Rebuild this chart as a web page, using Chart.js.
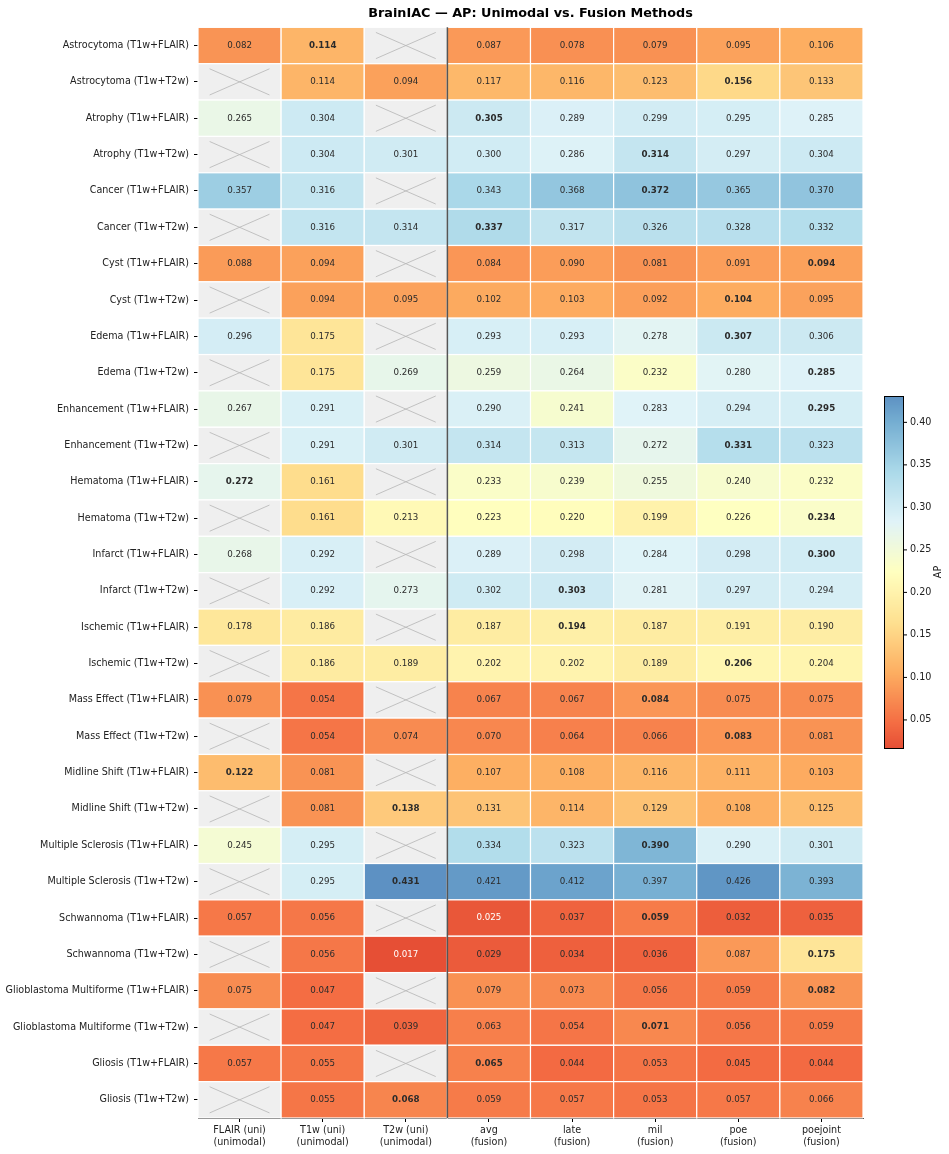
<!DOCTYPE html>
<html>
<head>
<meta charset="utf-8">
<script src="https://cdn.jsdelivr.net/npm/chart.js@4.4.0/dist/chart.umd.min.js"></script>
<style>
  body { margin: 0; background: #fff; }
  #wrap { width: 949px; height: 1154px; }
</style>
</head>
<body>
<div id="wrap"><canvas id="heatmap" width="949" height="1154"></canvas></div>
<script>
const chartTitle = "BrainIAC \u2014 AP: Unimodal vs. Fusion Methods";

const rowLabels = [
    "Astrocytoma (T1w+FLAIR)", "Astrocytoma (T1w+T2w)",
    "Atrophy (T1w+FLAIR)", "Atrophy (T1w+T2w)",
    "Cancer (T1w+FLAIR)", "Cancer (T1w+T2w)",
    "Cyst (T1w+FLAIR)", "Cyst (T1w+T2w)",
    "Edema (T1w+FLAIR)", "Edema (T1w+T2w)",
    "Enhancement (T1w+FLAIR)", "Enhancement (T1w+T2w)",
    "Hematoma (T1w+FLAIR)", "Hematoma (T1w+T2w)",
    "Infarct (T1w+FLAIR)", "Infarct (T1w+T2w)",
    "Ischemic (T1w+FLAIR)", "Ischemic (T1w+T2w)",
    "Mass Effect (T1w+FLAIR)", "Mass Effect (T1w+T2w)",
    "Midline Shift (T1w+FLAIR)", "Midline Shift (T1w+T2w)",
    "Multiple Sclerosis (T1w+FLAIR)", "Multiple Sclerosis (T1w+T2w)",
    "Schwannoma (T1w+FLAIR)", "Schwannoma (T1w+T2w)",
    "Glioblastoma Multiforme (T1w+FLAIR)", "Glioblastoma Multiforme (T1w+T2w)",
    "Gliosis (T1w+FLAIR)", "Gliosis (T1w+T2w)"
];

const colKeys = ["flair", "t1w", "t2w", "avg", "late", "mil", "poe", "poejoint"];
const colLabels = [
    ["FLAIR (uni)", "(unimodal)"], ["T1w (uni)", "(unimodal)"], ["T2w (uni)", "(unimodal)"],
    ["avg", "(fusion)"], ["late", "(fusion)"], ["mil", "(fusion)"],
    ["poe", "(fusion)"], ["poejoint", "(fusion)"]
];

// AP values per column, null = not available
const flairUni = [0.082, null, 0.265, null, 0.357, null, 0.088, null, 0.296, null,
    0.267, null, 0.272, null, 0.268, null, 0.178, null, 0.079, null,
    0.122, null, 0.245, null, 0.057, null, 0.075, null, 0.057, null];
const t1wUni = [0.114, 0.114, 0.304, 0.304, 0.316, 0.316, 0.094, 0.094, 0.175, 0.175,
    0.291, 0.291, 0.161, 0.161, 0.292, 0.292, 0.186, 0.186, 0.054, 0.054,
    0.081, 0.081, 0.295, 0.295, 0.056, 0.056, 0.047, 0.047, 0.055, 0.055];
const t2wUni = [null, 0.094, null, 0.301, null, 0.314, null, 0.095, null, 0.269,
    null, 0.301, null, 0.213, null, 0.273, null, 0.189, null, 0.074,
    null, 0.138, null, 0.431, null, 0.017, null, 0.039, null, 0.068];
const avgFusion = [0.087, 0.117, 0.305, 0.300, 0.343, 0.337, 0.084, 0.102, 0.293, 0.259,
    0.290, 0.314, 0.233, 0.223, 0.289, 0.302, 0.187, 0.202, 0.067, 0.070,
    0.107, 0.131, 0.334, 0.421, 0.025, 0.029, 0.079, 0.063, 0.065, 0.059];
const lateFusion = [0.078, 0.116, 0.289, 0.286, 0.368, 0.317, 0.090, 0.103, 0.293, 0.264,
    0.241, 0.313, 0.239, 0.220, 0.298, 0.303, 0.194, 0.202, 0.067, 0.064,
    0.108, 0.114, 0.323, 0.412, 0.037, 0.034, 0.073, 0.054, 0.044, 0.057];
const milFusion = [0.079, 0.123, 0.299, 0.314, 0.372, 0.326, 0.081, 0.092, 0.278, 0.232,
    0.283, 0.272, 0.255, 0.199, 0.284, 0.281, 0.187, 0.189, 0.084, 0.066,
    0.116, 0.129, 0.390, 0.397, 0.059, 0.036, 0.056, 0.071, 0.053, 0.053];
const poeFusion = [0.095, 0.156, 0.295, 0.297, 0.365, 0.328, 0.091, 0.104, 0.307, 0.280,
    0.294, 0.331, 0.240, 0.226, 0.298, 0.297, 0.191, 0.206, 0.075, 0.083,
    0.111, 0.108, 0.290, 0.426, 0.032, 0.087, 0.059, 0.056, 0.045, 0.057];
const poejointFusion = [0.106, 0.133, 0.285, 0.304, 0.370, 0.332, 0.094, 0.095, 0.306, 0.285,
    0.295, 0.323, 0.232, 0.234, 0.300, 0.294, 0.190, 0.204, 0.075, 0.081,
    0.103, 0.125, 0.301, 0.393, 0.035, 0.175, 0.082, 0.059, 0.044, 0.066];

// column index of the bold (best) value in each row
const bestCol = [1, 6, 3, 5, 5, 3, 7, 6, 6, 7, 7, 6, 0, 7, 7, 4, 4, 6, 5, 6,
    0, 2, 5, 2, 5, 7, 7, 5, 3, 2];

const cbTicks = [0.05, 0.10, 0.15, 0.20, 0.25, 0.30, 0.35, 0.40];

const columns = [flairUni, t1wUni, t2wUni, avgFusion, lateFusion, milFusion, poeFusion, poejointFusion];
const vmin = 0.017, vmax = 0.431;
const FONT = "DejaVu Sans";

// RdYlBu, red -> blue, only the middle part is used
const rdylbu = ["#a50026", "#d73027", "#f46d43", "#fdae61", "#fee090", "#ffffbf",
    "#e0f3f8", "#abd9e9", "#74add1", "#4575b4", "#313695"];

function hexRgb(h) {
    return [parseInt(h.substr(1, 2), 16), parseInt(h.substr(3, 2), 16), parseInt(h.substr(5, 2), 16)];
}

function colorFor(v) {
    let s = (v - vmin) / (vmax - vmin);
    s = Math.max(0, Math.min(1, s));
    let u = (0.15 + 0.7 * s) * (rdylbu.length - 1);
    let i = Math.min(Math.floor(u), rdylbu.length - 2);
    let f = u - i;
    let a = hexRgb(rdylbu[i]), b = hexRgb(rdylbu[i + 1]);
    let c = a.map((x, k) => Math.round(x + (b[k] - x) * f));
    return `rgb(${c[0]},${c[1]},${c[2]})`;
}

let cells = [];
rowLabels.forEach((r, i) => {
    colKeys.forEach((c, j) => {
        cells.push({ x: c, y: r, v: columns[j][i], best: bestCol[i] === j });
    });
});

const heatmapPlugin = {
    id: "heatmapCells",
    beforeDatasetsDraw(chart) {
        let ctx = chart.ctx;
        let xs = chart.scales.x, ys = chart.scales.y;
        let cw = xs.width / colKeys.length;
        let ch = ys.height / rowLabels.length;
        let meta = chart.getDatasetMeta(0);
        ctx.save();
        meta.data.forEach((pt, k) => {
            let d = cells[k];
            let x0 = pt.x - cw / 2, y0 = pt.y - ch / 2;
            ctx.fillStyle = d.v === null ? "#efefef" : colorFor(d.v);
            ctx.fillRect(x0, y0, cw, ch);
            ctx.strokeStyle = "#ffffff";
            ctx.lineWidth = 1.2;
            ctx.strokeRect(x0, y0, cw, ch);
            if (d.v === null) {
                let ix = cw * 0.14, iy = ch * 0.14;
                ctx.strokeStyle = "#b5b5b5";
                ctx.lineWidth = 0.8;
                ctx.beginPath();
                ctx.moveTo(x0 + ix, y0 + iy);
                ctx.lineTo(x0 + cw - ix, y0 + ch - iy);
                ctx.moveTo(x0 + ix, y0 + ch - iy);
                ctx.lineTo(x0 + cw - ix, y0 + iy);
                ctx.stroke();
            } else {
                ctx.font = (d.best ? "bold " : "") + "8.7px '" + FONT + "'";
                ctx.fillStyle = d.v < 0.027 ? "#ffffff" : "#2b2b2b";
                ctx.textAlign = "center";
                ctx.textBaseline = "middle";
                ctx.fillText(d.v.toFixed(3), pt.x, pt.y);
            }
        });
        ctx.restore();
    },
    afterDatasetsDraw(chart) {
        // separator between unimodal and fusion columns
        let ctx = chart.ctx;
        let xs = chart.scales.x;
        let xSep = (xs.getPixelForValue(2) + xs.getPixelForValue(3)) / 2;
        ctx.save();
        ctx.strokeStyle = "#555555";
        ctx.lineWidth = 1.5;
        ctx.beginPath();
        ctx.moveTo(xSep, chart.chartArea.top);
        ctx.lineTo(xSep, chart.chartArea.bottom);
        ctx.stroke();
        ctx.restore();
    },
    afterDraw(chart) {
        // colorbar
        let ctx = chart.ctx;
        let left = 884, right = 903, top = 396, bottom = 748;
        ctx.save();
        for (let y = top; y < bottom; y++) {
            let v = vmax - (y + 0.5 - top) / (bottom - top) * (vmax - vmin);
            ctx.fillStyle = colorFor(v);
            ctx.fillRect(left, y, right - left, 1);
        }
        ctx.strokeStyle = "#000";
        ctx.lineWidth = 1;
        ctx.strokeRect(left + 0.5, top + 0.5, right - left, bottom - top);
        ctx.font = "9.6px '" + FONT + "'";
        ctx.fillStyle = "#222";
        ctx.textAlign = "left";
        ctx.textBaseline = "middle";
        cbTicks.forEach(t => {
            let y = bottom - (t - vmin) / (vmax - vmin) * (bottom - top);
            ctx.beginPath();
            ctx.moveTo(right, y);
            ctx.lineTo(right + 4, y);
            ctx.stroke();
            ctx.fillText(t.toFixed(2), right + 7, y);
        });
        ctx.translate(938, (top + bottom) / 2);
        ctx.rotate(-Math.PI / 2);
        ctx.textAlign = "center";
        ctx.fillText("AP", 0, 0);
        ctx.restore();
    }
};

let ctx = document.getElementById("heatmap").getContext("2d");
new Chart(ctx, {
    type: "scatter",
    data: {
        datasets: [{ data: cells, pointRadius: 0, pointHoverRadius: 0 }]
    },
    options: {
        responsive: false,
        animation: false,
        layout: { padding: { left: 0, right: 86, top: 2, bottom: 0 } },
        plugins: {
            legend: { display: false },
            tooltip: { enabled: false },
            title: {
                display: true,
                text: chartTitle,
                fullSize: false,
                color: "#000",
                font: { family: FONT, size: 12.8, weight: "bold", lineHeight: 1.2 },
                padding: { top: 4, bottom: 6 }
            }
        },
        scales: {
            x: {
                type: "category",
                labels: colKeys,
                offset: true,
                z: 1,
                grid: { display: true, drawOnChartArea: false, offset: false, tickLength: 4, color: "#000" },
                border: { display: true, color: "#000", width: 1 },
                ticks: {
                    callback: (v, i) => colLabels[i],
                    autoSkip: false,
                    maxRotation: 0,
                    padding: 3,
                    color: "#222",
                    font: { family: FONT, size: 9.6 }
                },
                afterFit: s => { s.height = 36; }
            },
            y: {
                type: "category",
                labels: rowLabels,
                offset: true,
                z: 1,
                grid: { display: true, drawOnChartArea: false, offset: false, tickLength: 4, color: "#000" },
                border: { display: true, color: "#000", width: 1 },
                ticks: {
                    autoSkip: false,
                    padding: 5,
                    color: "#222",
                    font: { family: FONT, size: 9.6 }
                },
                afterFit: s => { s.width = 198; }
            }
        }
    },
    plugins: [heatmapPlugin]
});
</script>
</body>
</html>
